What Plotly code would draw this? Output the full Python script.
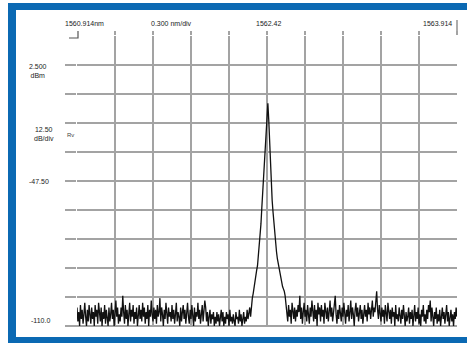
import numpy as np
import plotly.graph_objects as go

# Wavelength axis (nm)
wl_start = 1560.914
wl_end = 1563.914
wl_div = 0.3
n_points = 441

# Power axis (dBm)
ref_top = 15.0
db_div = 12.5
db_bottom = -110.0

# Trace values (dBm), one per sample across the span
noise_left = [
    -102, -108, -104, -110, -101, -107, -103, -109, -105, -100,
    -106, -110, -103, -108, -101, -105, -109, -102, -107, -104,
    -110, -101, -106, -103, -109, -100, -105, -108, -102, -110,
    -104, -107, -101, -109, -103, -106, -110, -102, -108, -105,
    -100, -107, -103, -110, -104, -99, -106, -102, -109, -105,
    -108, -102, -106, -97, -104, -109, -101, -107, -103, -110,
    -105, -100, -108, -103, -106, -101, -109, -104, -107, -102,
    -110, -104, -101, -107, -103, -108, -100, -106, -102, -109,
    -104, -107, -101, -110, -103, -106, -99, -105, -108, -102,
    -107, -103, -109, -101, -106, -104, -98, -108, -102, -105,
    -110, -103, -107, -100, -105, -109, -102, -106, -104, -108,
    -101, -107, -103, -109, -105, -100, -108, -104, -106, -110,
    -102, -108, -104, -101, -107, -103, -109, -105, -100, -106,
    -109, -103, -107, -101, -105, -110, -102, -108, -104, -106,
    -100, -107, -103, -109, -105, -101, -108, -104, -99, -102,
    -108, -104, -110, -106, -103, -109, -105, -107, -104, -110,
    -106, -109, -104, -108, -105, -110, -107, -103, -108, -104,
    -110, -106, -109, -104, -107, -105, -110, -103, -108, -106,
    -109, -105, -108, -110, -104, -107, -106, -109, -103, -108,
    -105, -110, -107, -104, -109, -106, -108, -103, -107, -105,
    -102, -106, -100, -98,
]
peak = [
    -96, -93, -91, -89, -86, -84, -80, -76, -71, -66,
    -59, -52, -45, -41, -37, -29, -20, -14,
    -21, -32, -42, -50, -56, -61, -66, -71, -75, -78,
    -81, -83, -86, -88, -90, -91, -93, -94, -95, -97, -100,
]
noise_right = [
    -104, -108, -101, -106, -103, -109, -100, -105, -107, -102,
    -108, -103, -106, -101, -104, -97, -107, -102, -109, -104,
    -100, -106, -103, -108, -101, -105, -109, -102, -106, -99,
    -104, -108, -101, -107, -103, -110, -100, -105, -102, -108,
    -101, -106, -103, -109, -100, -105, -107, -102, -108, -104,
    -99, -106, -102, -108, -104, -100, -97, -105, -109, -103,
    -107, -101, -105, -108, -102, -106, -100, -104, -109, -103,
    -106, -101, -108, -104, -99, -107, -102, -105, -110, -103,
    -100, -106, -102, -108, -104, -101, -107, -103, -109, -105,
    -101, -106, -103, -108, -100, -105, -102, -107, -104, -99,
    -106, -102, -104, -100, -95, -103, -107, -101, -105, -108,
    -102, -106, -103, -109, -101, -104, -108, -100, -105, -107,
    -103, -109, -102, -106, -104, -110, -101, -107, -105, -108,
    -102, -106, -109, -103, -107, -101, -105, -110, -104, -108,
    -106, -102, -109, -104, -107, -103, -110, -105, -101, -108,
    -104, -107, -102, -109, -105, -110, -103, -106, -101, -108,
    -105, -109, -103, -107, -101, -104, -99, -108, -102, -106,
    -110, -104, -107, -102, -109, -105, -108, -103, -110, -106,
    -102, -107, -104, -109, -105, -101, -108, -104, -110, -106,
    -103, -108, -105, -110, -104, -107, -102, -106,
]
power = noise_left + peak + noise_right

# Screen annotations
top_labels = ["1560.914nm", "0.300 nm/div", "1562.42", "1563.914"]
left_labels = ["2.500<br>dBm", "12.50<br>dB/div", "-47.50", "-110.0"]
marker_label = "Rv"

wavelength = np.linspace(wl_start, wl_end, n_points)

W, H = 467, 343
L, R, T, B = 77, 10, 36, 17
pw, ph = W - L - R, H - T - B


def px(x):
    return (x - L) / pw


def py(y):
    return (H - B - y) / ph


grid_col = "#a3a3a3"
blue = "#0b69b3"

fig = go.Figure()
fig.add_trace(go.Scatter(
    x=wavelength, y=power, mode="lines",
    line=dict(color="#111111", width=1.3),
    hoverinfo="skip", showlegend=False,
))

x_grid = [wl_start + wl_div * k for k in range(1, 11)]
y_grid = [ref_top - db_div * k for k in range(1, 11)]

fig.update_layout(
    width=W, height=H,
    margin=dict(l=L, r=R, t=T, b=B, pad=0),
    paper_bgcolor="white", plot_bgcolor="white",
    xaxis=dict(
        range=[wl_start, wl_end], tickvals=x_grid, showticklabels=False,
        showgrid=True, gridcolor=grid_col, gridwidth=1.8,
        ticks="outside", ticklen=4, tickcolor=grid_col, tickwidth=1.8,
        side="top", zeroline=False, showline=False,
    ),
    yaxis=dict(
        range=[db_bottom, ref_top], tickvals=y_grid, showticklabels=False,
        showgrid=True, gridcolor=grid_col, gridwidth=1.8,
        ticks="outside", ticklen=11, tickcolor=grid_col, tickwidth=1.8,
        zeroline=False, showline=False,
    ),
)

shapes = [
    # bottom graticule line
    dict(type="line", xref="paper", yref="paper", x0=px(66), x1=1, y0=0, y1=0,
         line=dict(color=grid_col, width=1.8), layer="below"),
    # blue frame
    dict(type="rect", xref="paper", yref="paper", x0=px(8), x1=px(16), y0=py(343), y1=py(3),
         fillcolor=blue, line_width=0, layer="above"),
    dict(type="rect", xref="paper", yref="paper", x0=px(8), x1=px(467), y0=py(10), y1=py(3),
         fillcolor=blue, line_width=0, layer="above"),
    dict(type="rect", xref="paper", yref="paper", x0=px(8), x1=px(467), y0=py(343), y1=py(337),
         fillcolor=blue, line_width=0, layer="above"),
    # start marker hook
    dict(type="path", xref="paper", yref="paper",
         path=f"M {px(69)} {py(38)} L {px(78)} {py(38)} L {px(78)} {py(31)}",
         line=dict(color="#555555", width=1.2)),
    # right edge extension
    dict(type="line", xref="paper", yref="paper", x0=1, x1=1, y0=py(32), y1=py(20),
         line=dict(color=grid_col, width=1.8)),
]
fig.update_layout(shapes=shapes)

font = dict(family="Liberation Sans Narrow, Liberation Sans, Arial", size=7, color="#222222")
top_x = [84, 171, 268, 437]
for lab, x in zip(top_labels, top_x):
    fig.add_annotation(text=lab, xref="paper", yref="paper", x=px(x), y=py(23),
                       showarrow=False, font=font, xanchor="center", yanchor="middle")

left_pos = [(38, 71), (44, 134), (39, 181), (40, 320)]
for lab, (x, y) in zip(left_labels, left_pos):
    fig.add_annotation(text=lab, xref="paper", yref="paper", x=px(x), y=py(y),
                       showarrow=False, font=font, xanchor="center", yanchor="middle",
                       align="center")
fig.add_annotation(text=marker_label, xref="paper", yref="paper", x=px(70), y=py(135),
                   showarrow=False, font=dict(family="Liberation Sans", size=6, color="#444444"),
                   xanchor="center", yanchor="middle")

fig.write_html("out.html", post_script="document.body.style.margin='0';",
               config={"displayModeBar": False})
